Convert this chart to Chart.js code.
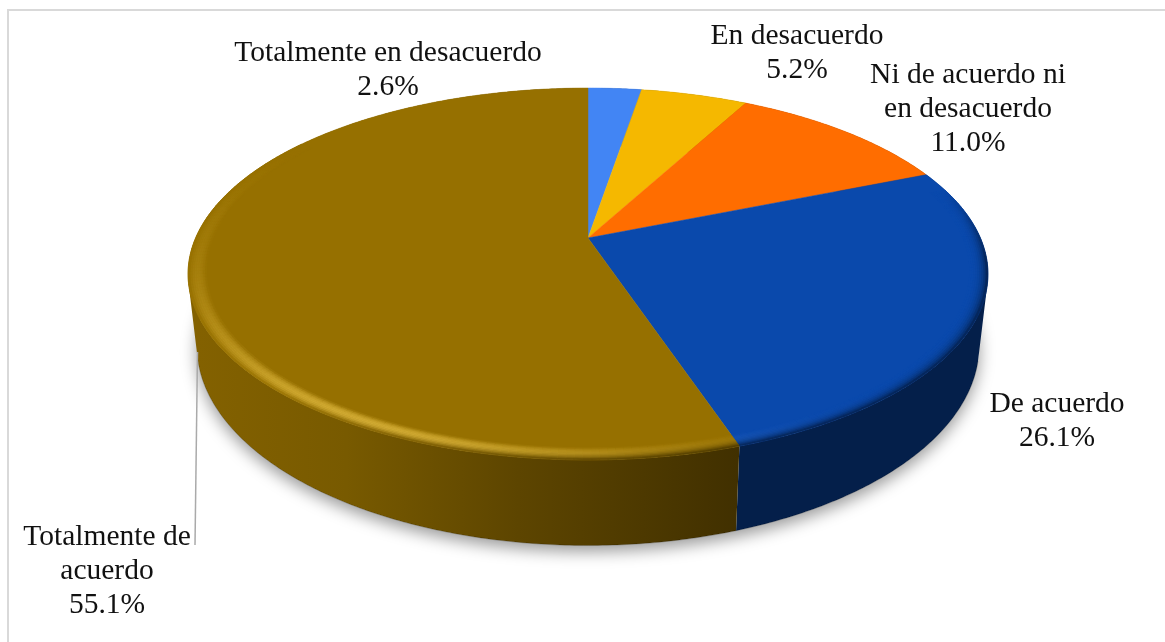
<!DOCTYPE html>
<html>
<head>
<meta charset="utf-8">
<style>
  html, body { margin: 0; background: #fff; overflow: hidden; }
  canvas { display: block; }
</style>
<script src="https://cdn.jsdelivr.net/npm/chart.js@4"></script>
</head>
<body>
<canvas id="pieChart" width="1165" height="642"></canvas>
<script>
const categories = ['Totalmente en desacuerdo', 'En desacuerdo', 'Ni de acuerdo ni en desacuerdo', 'De acuerdo', 'Totalmente de acuerdo'];
const percents = [2.6, 5.2, 11.0, 26.1, 55.1];
const sliceColors = ['#4285f4', '#f5b800', '#ff6d00', '#0a49ac', '#967000'];

// where each label sits (centre x, first line y, wrap width)
const labelSpots = [
  { x: 388, y: 53, wrap: 340 },
  { x: 797, y: 36, wrap: 220 },
  { x: 968, y: 75, wrap: 215 },
  { x: 1057, y: 404, wrap: 160 },
  { x: 107, y: 537, wrap: 175 }
];

const LINE_HEIGHT = 34;

// perspective of the disc: back edge shrinks, front edge grows
const TILT = { k: 0.1935, a: 392.4, b: 179, depth: 69, baseScale: 0.978 };

function project(el, nx, ny, lowered) {
  const w = 1 - TILT.k * ny;
  const sx = lowered ? TILT.baseScale : 1;
  return {
    x: el.x + sx * TILT.a * nx / w,
    y: el.y + TILT.b * ny / w + (lowered ? TILT.depth / w : 0)
  };
}

function rgb(hex) {
  const n = parseInt(hex.slice(1), 16);
  return [(n >> 16) & 255, (n >> 8) & 255, n & 255];
}

function css(c) {
  return 'rgb(' + c.map(v => Math.max(0, Math.min(255, Math.round(v)))).join(',') + ')';
}

function arcPoints(el, lowered) {
  const pts = [];
  const steps = Math.max(4, Math.ceil((el.endAngle - el.startAngle) / 0.01));
  for (let i = 0; i <= steps; i++) {
    const t = el.startAngle + (el.endAngle - el.startAngle) * i / steps;
    pts.push(project(el, Math.cos(t), Math.sin(t), lowered));
  }
  return pts;
}

function wallGradient(ctx, base) {
  const g = ctx.createLinearGradient(198, 0, 980, 0);
  const c = rgb(base);
  [[0, 0.87], [0.19, 0.8], [0.41, 0.62], [0.69, 0.43], [1, 0.43]].forEach(([pos, f]) => {
    g.addColorStop(pos, css(c.map(v => v * f)));
  });
  return g;
}

function drawShadow(ctx, arcs) {
  ctx.save();
  ctx.shadowColor = 'rgba(0,0,0,0.4)';
  ctx.shadowBlur = 16;
  ctx.shadowOffsetY = 6;
  ctx.fillStyle = '#fff';
  ctx.beginPath();
  arcs.forEach(el => arcPoints(el, true).forEach(p => ctx.lineTo(p.x, p.y)));
  ctx.closePath();
  ctx.fill();
  ctx.restore();
}

// side of a slice: all strips go in one path with the same winding, so the
// outline stays tangent at the far left and right and no seams show
function drawWall(ctx, el, base) {
  const top = arcPoints(el, false);
  const low = arcPoints(el, true);
  ctx.beginPath();
  for (let i = 0; i < top.length - 1; i++) {
    let quad = [top[i], top[i + 1], low[i + 1], low[i]];
    const area = quad.reduce((sum, p, n) => {
      const q = quad[(n + 1) % 4];
      return sum + p.x * q.y - q.x * p.y;
    }, 0);
    if (area < 0) quad = quad.reverse();
    quad.forEach((p, n) => n ? ctx.lineTo(p.x, p.y) : ctx.moveTo(p.x, p.y));
    ctx.closePath();
  }
  ctx.fillStyle = wallGradient(ctx, base);
  ctx.fill();
  // thin dark line where the wall meets the floor
  ctx.strokeStyle = 'rgba(0,0,0,0.22)';
  ctx.lineWidth = 1;
  ctx.beginPath();
  low.forEach(p => { if (p.y > 360) ctx.lineTo(p.x, p.y); });
  ctx.stroke();
}

function drawFace(ctx, el, base) {
  ctx.beginPath();
  ctx.moveTo(el.x, el.y);
  arcPoints(el, false).forEach(p => ctx.lineTo(p.x, p.y));
  ctx.closePath();
  ctx.fillStyle = base;
  ctx.strokeStyle = base;
  ctx.lineWidth = 0.5;
  ctx.fill();
  ctx.stroke();
}

// rounded rim of the top face: a glint towards the front left, shade towards the right
function drawBevel(ctx, el, base) {
  const c = rgb(base);
  const rings = 9, inner = 0.955, da = Math.PI / 180;
  for (let a = el.startAngle; a < el.endAngle; a += da) {
    const b = Math.min(a + da, el.endAngle);
    const nx = Math.cos(a), ny = Math.sin(a);
    const glint = Math.pow(Math.max(0, nx * -0.41 + ny * 0.91), 6) * 0.8 +
      Math.pow(Math.max(0, nx * -0.7 + ny * 0.71), 2) * 0.4;
    const shade = Math.max(0, Math.min(1, 0.2 + nx * 0.85 + ny * 0.5)) *
      Math.max(0, Math.min(1, (ny + 0.3) / 0.4));
    if (glint < 0.01 && shade < 0.01) continue;
    for (let i = 0; i < rings; i++) {
      const t0 = i / rings, t1 = (i + 1) / rings, t = (t0 + t1) / 2;
      const r0 = inner + (1 - inner) * t0, r1 = inner + (1 - inner) * t1;
      const lift = glint * Math.sin(Math.PI * t);
      const dark = 1 - 0.55 * shade * Math.pow(t, 3);
      const col = css([(c[0] + 54 * lift) * dark, (c[1] + 53 * lift) * dark, (c[2] + 45 * lift) * dark]);
      const p = [
        project(el, r0 * Math.cos(a), r0 * Math.sin(a), false),
        project(el, r1 * Math.cos(a), r1 * Math.sin(a), false),
        project(el, r1 * Math.cos(b), r1 * Math.sin(b), false),
        project(el, r0 * Math.cos(b), r0 * Math.sin(b), false)
      ];
      ctx.beginPath();
      p.forEach(q => ctx.lineTo(q.x, q.y));
      ctx.closePath();
      ctx.fillStyle = col;
      ctx.strokeStyle = col;
      ctx.lineWidth = 0.6;
      ctx.fill();
      ctx.stroke();
    }
  }
}

function wrapLines(ctx, text, width) {
  const lines = [];
  let cur = '';
  text.split(' ').forEach(word => {
    const next = cur ? cur + ' ' + word : word;
    if (cur && ctx.measureText(next).width > width) {
      lines.push(cur);
      cur = word;
    } else {
      cur = next;
    }
  });
  lines.push(cur);
  return lines;
}

function drawLabels(ctx) {
  ctx.font = '29.5px "Liberation Serif"';
  ctx.fillStyle = '#111';
  ctx.textAlign = 'center';
  ctx.textBaseline = 'middle';
  categories.forEach((name, i) => {
    const spot = labelSpots[i];
    const lines = wrapLines(ctx, name, spot.wrap).concat(percents[i].toFixed(1) + '%');
    lines.forEach((line, n) => ctx.fillText(line, spot.x, spot.y + n * LINE_HEIGHT));
  });
}

const tiltedPie = {
  id: 'tiltedPie',
  beforeDatasetDraw(chart) {
    const ctx = chart.ctx;
    const arcs = chart.getDatasetMeta(0).data;

    ctx.save();
    ctx.fillStyle = '#fff';
    ctx.fillRect(0, 0, chart.width, chart.height);
    ctx.strokeStyle = '#d9d9d9';
    ctx.lineWidth = 2;
    ctx.strokeRect(8, 10, 1400, 900);

    drawShadow(ctx, arcs);
    arcs.forEach((el, i) => drawWall(ctx, el, sliceColors[i]));
    arcs.forEach((el, i) => drawFace(ctx, el, sliceColors[i]));
    arcs.forEach((el, i) => drawBevel(ctx, el, sliceColors[i]));

    // leader line of the largest slice
    ctx.strokeStyle = '#aaa';
    ctx.lineWidth = 1.5;
    ctx.beginPath();
    ctx.moveTo(197.5, 352);
    ctx.lineTo(195, 545);
    ctx.stroke();

    drawLabels(ctx);
    ctx.restore();
    return false; // the flat circular arcs are replaced by the tilted ones above
  }
};

new Chart(document.getElementById('pieChart'), {
  type: 'pie',
  data: {
    labels: categories,
    datasets: [{ data: percents, backgroundColor: sliceColors, borderWidth: 0 }]
  },
  options: {
    responsive: false,
    animation: false,
    layout: { padding: { left: 388, right: 377, top: 38, bottom: 204 } },
    plugins: { legend: { display: false }, tooltip: { enabled: false } }
  },
  plugins: [tiltedPie]
});
</script>
</body>
</html>
